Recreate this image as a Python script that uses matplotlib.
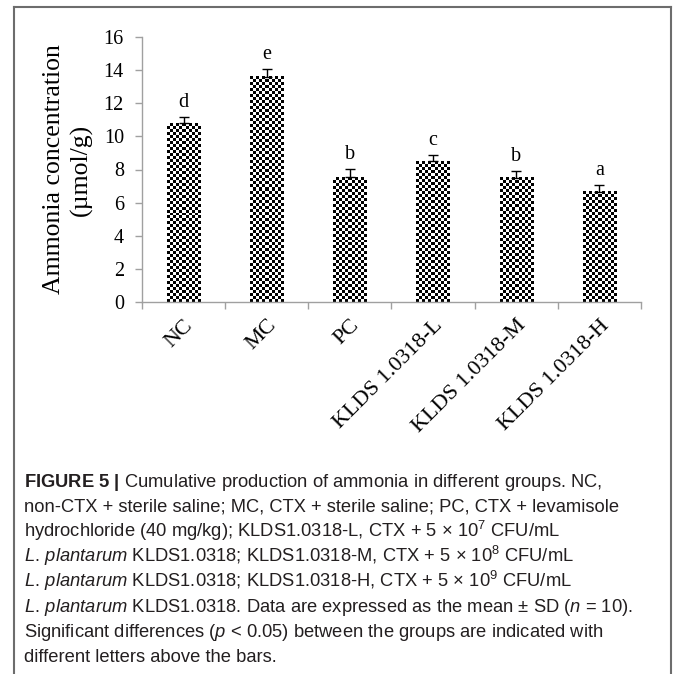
import numpy as np
import matplotlib.pyplot as plt
from matplotlib.lines import Line2D

# données
groups = ["NC", "MC", "PC", "KLDS 1.0318-L", "KLDS 1.0318-M", "KLDS 1.0318-H"]
means = [10.78, 13.59, 7.53, 8.51, 7.51, 6.67]
sd = [0.40, 0.45, 0.50, 0.38, 0.40, 0.40]
letters = ["d", "e", "b", "c", "b", "a"]

caption = [
    r"$\mathbf{FIGURE\ 5\ |}$ Cumulative production of ammonia in different groups. NC,",
    "non-CTX + sterile saline; MC, CTX + sterile saline; PC, CTX + levamisole",
    r"hydrochloride (40 mg/kg); KLDS1.0318-L, CTX + 5 $\times$ 10$^{7}$ CFU/mL",
    r"$\mathit{L.\,plantarum}$ KLDS1.0318; KLDS1.0318-M, CTX + 5 $\times$ 10$^{8}$ CFU/mL",
    r"$\mathit{L.\,plantarum}$ KLDS1.0318; KLDS1.0318-H, CTX + 5 $\times$ 10$^{9}$ CFU/mL",
    r"$\mathit{L.\,plantarum}$ KLDS1.0318. Data are expressed as the mean $\pm$ SD ($\mathit{n}$ = 10).",
    r"Significant differences ($\mathit{p}$ < 0.05) between the groups are indicated with",
    "different letters above the bars.",
]

W, H = 673, 674
serif = ["Liberation Serif", "DejaVu Serif"]
cap_font = ["Liberation Sans", "DejaVu Sans"]

plt.rcParams["mathtext.fontset"] = "custom"
plt.rcParams["mathtext.rm"] = "Liberation Sans"
plt.rcParams["mathtext.it"] = "Liberation Sans:italic"
plt.rcParams["mathtext.bf"] = "Liberation Sans:bold"

fig = plt.figure(figsize=(W / 100, H / 100), dpi=100)
ax = fig.add_axes([142 / W, 1 - 302 / H, (641 - 142) / W, (302 - 37) / H])

x = np.arange(len(groups))
bw = 0.4
bars = ax.bar(x, means, width=bw, facecolor="none", edgecolor="none", zorder=2)

# motif damier dans chaque barre
px_per_x = (641 - 142) / 6.0
px_per_y = (302 - 37) / 16.0
cell = 3.0
for b in bars:
    x0, y0 = b.get_x(), b.get_y()
    w, h = b.get_width(), b.get_height()
    nx = int(round(w * px_per_x / cell))
    ny = int(round(h * px_per_y / cell))
    board = (np.indices((ny, nx)).sum(axis=0) % 2).astype(float)
    ax.imshow(board, cmap="gray", extent=(x0, x0 + w, y0, y0 + h),
              interpolation="nearest", aspect="auto", zorder=2, origin="lower")

ax.errorbar(x, means, yerr=[np.zeros(len(sd)), sd], fmt="none", ecolor="black",
            elinewidth=1, capsize=3.5, capthick=1, zorder=3)

for xi, m, s, lab in zip(x, means, sd, letters):
    ax.text(xi, m + s + 0.3, lab, ha="center", va="bottom", fontsize=14.5,
            family=serif)

ax.set_xlim(-0.5, 5.5)
ax.set_ylim(0, 16)
ax.set_yticks(np.arange(0, 17, 2))
ax.set_xticks(x)
ax.set_xticks(np.arange(-0.5, 6, 1), minor=True)
ax.set_xticklabels(groups, rotation=45, ha="right", va="top",
                   rotation_mode="anchor", fontsize=16, family=serif)
for t in ax.get_yticklabels():
    t.set_family(serif)
    t.set_fontsize(14.5)
ax.tick_params(axis="x", which="major", length=0, pad=10)
ax.tick_params(axis="x", which="minor", length=5, color="#a0a0a0", width=1)
ax.tick_params(axis="y", length=5, color="#a0a0a0", width=1, pad=8)

for side in ["top", "right"]:
    ax.spines[side].set_visible(False)
for side in ["left", "bottom"]:
    ax.spines[side].set_color("#a0a0a0")
    ax.spines[side].set_linewidth(1)

ax.set_ylabel("Ammonia concentration\n(\u00b5mol/g)", fontsize=18.5,
              family=serif, linespacing=1.25, labelpad=8)

# légende de la figure
for i, line in enumerate(caption):
    fig.text(24 / W, 1 - (487 + 25 * i) / H, line, fontsize=13.2,
             family=cap_font, color="#231f20", va="baseline", ha="left")

# cadre de la page
frame = dict(color="#6d6d6d", lw=1.5, transform=fig.transFigure)
fig.add_artist(Line2D([14 / W, 671 / W], [1 - 7 / H, 1 - 7 / H], **frame))
fig.add_artist(Line2D([14 / W, 14 / W], [1 - 7 / H, 0], **frame))
fig.add_artist(Line2D([671 / W, 671 / W], [1 - 7 / H, 0], **frame))

fig.savefig("out.png", dpi=100)
